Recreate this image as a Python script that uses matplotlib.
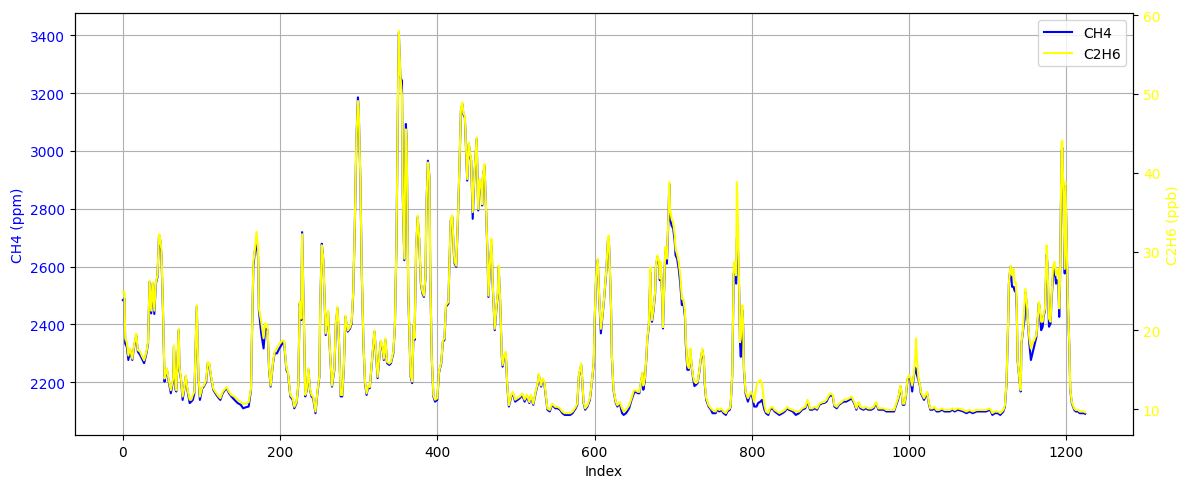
import matplotlib
matplotlib.use("Agg")
import matplotlib.pyplot as plt

# sample index along the record
index = [0, 2, 3, 5, 7, 9, 12, 14, 17, 19, 22, 24, 27, 30, 32, 34, 36, 38, 40, 42, 44, 46, 47, 49, 51, 53, 54, 56, 58, 61,
         64, 65, 67, 68, 71, 72, 74, 76, 78, 80, 82, 85, 87, 89, 91, 94, 96, 98, 101, 103, 106, 108, 110, 112, 115, 119, 122, 124, 127, 130,
         132, 135, 138, 142, 146, 150, 153, 157, 160, 163, 164, 166, 168, 170, 172, 173, 176, 179, 181, 184, 186, 188, 191, 193, 196, 199, 203, 205,
         208, 210, 213, 216, 218, 221, 223, 225, 227, 228, 230, 232, 234, 236, 238, 240, 242, 245, 247, 250, 251, 253, 255, 257, 258, 261,
         262, 264, 266, 269, 271, 273, 275, 277, 279, 281, 283, 286, 289, 291, 293, 295, 297, 299, 300, 302, 304, 306, 308, 310, 312, 314,
         316, 318, 320, 322, 324, 326, 328, 330, 332, 334, 336, 339, 341, 344, 346, 348, 350, 351, 353, 355, 356, 358, 359, 360, 361, 363,
         365, 366, 368, 370, 371, 373, 375, 377, 379, 381, 383, 385, 386, 388, 390, 391, 393, 395, 397, 400, 402, 405, 407, 409, 411, 414,
         417, 419, 421, 422, 424, 426, 428, 430, 432, 433, 435, 437, 438, 440, 442, 443, 445, 447, 450, 451, 452, 454, 456, 457, 458, 460,
         462, 464, 465, 467, 469, 470, 473, 475, 477, 478, 480, 482, 483, 485, 487, 489, 491, 494, 496, 499, 502, 505, 508, 511, 514, 517,
         519, 522, 525, 528, 529, 532, 534, 536, 538, 540, 543, 546, 550, 553, 556, 559, 562, 566, 569, 572, 576, 578, 580, 583, 584, 586,
         588, 591, 594, 596, 599, 600, 602, 604, 606, 608, 610, 612, 615, 617, 618, 619, 621, 622, 624, 627, 629, 632, 635, 637, 640,
         644, 647, 650, 652, 655, 657, 659, 661, 662, 664, 666, 667, 669, 671, 672, 673, 675, 677, 678, 680, 682, 683, 684, 686, 687, 689,
         690, 692, 694, 695, 696, 698, 700, 702, 703, 705, 707, 709, 711, 713, 715, 716, 718, 720, 722, 723, 725, 727, 729, 731, 733, 735,
         737, 739, 740, 742, 745, 748, 750, 754, 756, 759, 761, 764, 767, 769, 772, 773, 775, 777, 778, 780, 781, 782, 784, 785, 786, 788,
         789, 790, 792, 795, 797, 799, 801, 803, 806, 808, 811, 813, 816, 818, 821, 823, 826, 829, 832, 835, 839, 842, 845, 847,
         852, 856, 860, 864, 868, 871, 874, 877, 880, 883, 886, 890, 892, 895, 897, 900, 903, 905, 908, 911, 914, 917, 920, 924, 927, 931,
         933, 936, 938, 942, 945, 948, 952, 955, 958, 961, 964, 968, 971, 975, 978, 981, 983, 986, 987, 989, 991, 992, 994, 996, 998, 1000,
         1002, 1004, 1006, 1008, 1009, 1010, 1012, 1014, 1015, 1017, 1019, 1021, 1023, 1025, 1027, 1030, 1032, 1035, 1038, 1042, 1045, 1048,
         1052, 1055, 1058, 1062, 1069, 1073, 1077, 1081, 1086, 1090, 1094, 1098, 1103, 1106, 1109, 1113, 1116, 1120, 1122, 1124, 1126, 1127,
         1129, 1131, 1133, 1134, 1136, 1137, 1138, 1140, 1142, 1143, 1145, 1147, 1148, 1150, 1152, 1153, 1155, 1157, 1159, 1160, 1162, 1164,
         1165, 1166, 1168, 1170, 1171, 1173, 1175, 1176, 1178, 1180, 1181, 1183, 1185, 1187, 1188, 1190, 1191, 1192, 1194, 1195, 1197, 1198,
         1199, 1200, 1202, 1204, 1205, 1207, 1210, 1212, 1215, 1217, 1222, 1224]

# methane, ppm
ch4 = [2484, 2490, 2334, 2323, 2277, 2311, 2277, 2317, 2363, 2306, 2294, 2283, 2266, 2300, 2334, 2547, 2438, 2541, 2436, 2541, 2564, 2708, 2702, 2645, 2449, 2202, 2220, 2243, 2208, 2162,
       2208, 2323, 2174, 2168, 2380, 2243, 2208, 2139, 2174, 2220, 2174, 2128, 2133, 2139, 2162, 2461, 2220, 2139, 2179, 2185, 2202, 2266, 2260, 2220, 2174, 2156, 2145, 2139, 2162, 2174,
       2179, 2162, 2151, 2139, 2128, 2122, 2110, 2114, 2116, 2174, 2334, 2599, 2656, 2679, 2633, 2449, 2369, 2317, 2386, 2380, 2243, 2185, 2266, 2300, 2300, 2317, 2334, 2340,
       2243, 2231, 2151, 2139, 2110, 2128, 2185, 2472, 2415, 2719, 2449, 2151, 2174, 2243, 2174, 2151, 2145, 2093, 2151, 2220, 2449, 2679, 2622, 2449, 2363, 2444,
       2380, 2277, 2185, 2243, 2403, 2455, 2334, 2151, 2151, 2243, 2426, 2375, 2386, 2403, 2507, 2737, 3035, 3185, 3139, 2909, 2564, 2334, 2197, 2156, 2185, 2179,
       2243, 2311, 2375, 2300, 2214, 2277, 2340, 2323, 2277, 2346, 2266, 2260, 2266, 2300, 2392, 2679, 3196, 3409, 3254, 3242, 2852, 2622, 2909, 3093, 3024, 2507,
       2323, 2220, 2197, 2398, 2346, 2656, 2771, 2691, 2541, 2507, 2495, 2564, 2794, 2966, 2909, 2564, 2277, 2151, 2133, 2139, 2231, 2266, 2340, 2346, 2461, 2472,
       2760, 2771, 2645, 2610, 2599, 2748, 2932, 3139, 3162, 3127, 3116, 2966, 2897, 3024, 2978, 2966, 2765, 2909, 3041, 2909, 2794, 2897, 2874, 2811, 2909, 2949,
       2794, 2622, 2495, 2610, 2691, 2564, 2380, 2449, 2507, 2599, 2472, 2288, 2254, 2288, 2300, 2185, 2116, 2151, 2162, 2133, 2139, 2145, 2156, 2133, 2151, 2128,
       2151, 2122, 2162, 2197, 2225, 2185, 2208, 2197, 2151, 2105, 2099, 2122, 2110, 2110, 2105, 2093, 2087, 2087, 2087, 2093, 2110, 2122, 2220, 2260, 2220, 2128,
       2105, 2116, 2139, 2185, 2266, 2403, 2564, 2622, 2484, 2369, 2426, 2484, 2587, 2691, 2702, 2633, 2449, 2288, 2174, 2128, 2116, 2128, 2093, 2087, 2093,
       2110, 2139, 2162, 2168, 2162, 2162, 2197, 2231, 2174, 2208, 2288, 2346, 2392, 2580, 2449, 2409, 2449, 2507, 2599, 2633, 2610, 2553, 2610, 2495, 2386, 2564,
       2662, 2610, 2771, 2886, 2765, 2742, 2731, 2685, 2639, 2627, 2593, 2541, 2467, 2472, 2426, 2334, 2243, 2243, 2311, 2266, 2220, 2187, 2191, 2197, 2231, 2277,
       2311, 2277, 2197, 2139, 2116, 2105, 2093, 2093, 2105, 2099, 2105, 2093, 2087, 2099, 2105, 2116, 2220, 2576, 2587, 2541, 2700, 2700, 2507, 2334, 2288, 2450,
       2392, 2243, 2162, 2133, 2151, 2162, 2145, 2116, 2116, 2128, 2133, 2139, 2105, 2093, 2087, 2105, 2110, 2099, 2093, 2087, 2093, 2099, 2110, 2105,
       2099, 2087, 2093, 2105, 2110, 2133, 2105, 2105, 2110, 2105, 2122, 2128, 2128, 2133, 2145, 2156, 2151, 2116, 2110, 2122, 2128, 2133, 2133, 2139, 2145, 2122,
       2105, 2128, 2110, 2105, 2110, 2105, 2105, 2110, 2128, 2105, 2105, 2105, 2099, 2099, 2099, 2099, 2116, 2139, 2151, 2185, 2151, 2122, 2122, 2151, 2208, 2220,
       2208, 2168, 2220, 2250, 2240, 2225, 2208, 2185, 2162, 2151, 2139, 2151, 2162, 2128, 2105, 2105, 2110, 2099, 2099, 2105, 2099, 2099,
       2099, 2105, 2099, 2105, 2099, 2093, 2099, 2093, 2099, 2099, 2099, 2099, 2105, 2087, 2093, 2093, 2087, 2099, 2116, 2197, 2403, 2541,
       2599, 2530, 2530, 2518, 2510, 2449, 2277, 2220, 2168, 2334, 2380, 2420, 2510, 2461, 2380, 2334, 2277, 2300, 2323, 2334, 2357, 2426,
       2472, 2461, 2380, 2392, 2426, 2449, 2640, 2610, 2392, 2403, 2472, 2564, 2590, 2541, 2553, 2541, 2426, 2541, 3000, 3010, 2737, 2576,
       2880, 2748, 2472, 2311, 2174, 2128, 2105, 2099, 2099, 2093, 2093, 2091]

# ethane, ppb
c2h6 = [24.9, 24.9, 19.0, 18.5, 16.8, 17.7, 16.4, 17.9, 19.6, 17.5, 17.3, 16.8, 16.2, 17.3, 18.5, 26.3, 22.5, 26.1, 22.5, 26.1, 27.0, 32.2, 32.0, 30.3, 22.8, 13.9, 14.3, 15.2, 13.9, 12.4,
        13.9, 18.1, 13.0, 12.4, 20.2, 15.2, 13.9, 11.6, 12.6, 14.3, 12.6, 11.2, 11.2, 11.8, 12.2, 23.2, 14.3, 11.6, 12.8, 13.0, 13.7, 16.0, 15.8, 14.3, 12.6, 12.0, 11.6, 11.4, 12.2, 12.6,
        12.8, 12.2, 11.8, 11.6, 11.2, 10.9, 10.7, 10.7, 10.9, 12.6, 18.5, 28.7, 30.3, 32.5, 30.3, 22.8, 21.1, 19.0, 20.9, 20.6, 15.2, 13.0, 16.0, 17.3, 17.7, 18.3, 18.7, 18.7,
        15.2, 14.7, 11.8, 11.4, 10.3, 10.9, 13.0, 23.6, 21.5, 32.2, 22.8, 11.8, 12.6, 15.2, 12.6, 11.8, 11.6, 9.7, 11.8, 14.3, 22.8, 30.8, 29.1, 22.8, 19.6, 22.5,
        20.2, 16.4, 13.0, 15.2, 21.1, 23.0, 18.5, 11.8, 11.8, 15.2, 21.9, 20.0, 20.4, 21.1, 24.9, 33.3, 44.3, 49.1, 48.1, 39.6, 27.0, 18.5, 13.5, 12.0, 13.0, 12.8,
        15.2, 17.7, 20.0, 17.3, 14.1, 16.4, 18.7, 18.1, 16.4, 19.0, 16.0, 15.8, 16.0, 17.3, 20.6, 31.2, 50.2, 58.0, 52.3, 49.8, 37.5, 29.1, 39.6, 45.5, 43.8, 24.9,
        18.1, 14.3, 13.5, 20.9, 19.0, 30.3, 34.6, 31.6, 26.1, 24.9, 24.4, 27.0, 35.4, 41.3, 39.6, 27.0, 16.4, 11.8, 11.2, 11.4, 14.7, 16.0, 18.7, 19.0, 23.2, 23.6,
        34.1, 34.6, 29.9, 28.7, 28.2, 33.7, 40.5, 48.1, 48.9, 47.6, 47.2, 41.7, 39.2, 43.8, 42.2, 41.7, 35.0, 39.6, 44.5, 39.6, 35.4, 39.2, 38.4, 36.0, 39.6, 41.1,
        35.4, 29.1, 24.4, 28.7, 31.6, 27.0, 20.2, 22.8, 24.9, 28.2, 23.6, 16.8, 15.6, 16.8, 17.3, 13.0, 10.5, 11.8, 12.2, 11.2, 11.4, 11.6, 12.0, 11.2, 11.8, 10.9,
        11.8, 10.7, 12.2, 13.5, 14.5, 13.0, 13.9, 13.5, 11.8, 10.1, 9.9, 10.7, 10.3, 10.3, 10.1, 9.7, 9.5, 9.5, 9.5, 9.7, 10.3, 10.7, 14.3, 15.8, 14.3, 10.9,
        10.1, 10.5, 11.4, 13.0, 16.0, 21.1, 27.0, 29.1, 24.0, 20.2, 21.9, 24.0, 27.8, 31.6, 32.0, 29.5, 22.8, 16.8, 12.6, 10.9, 10.5, 10.9, 10.1, 9.7, 9.9,
        10.5, 11.4, 12.4, 12.4, 12.2, 12.2, 13.5, 14.7, 13.0, 13.9, 16.8, 19.0, 20.6, 28.0, 22.8, 21.3, 22.8, 24.9, 28.2, 29.5, 28.7, 26.6, 28.7, 24.4, 20.4, 27.0,
        30.6, 29.1, 34.6, 38.8, 35.4, 34.1, 33.7, 32.0, 30.3, 29.7, 28.7, 27.0, 24.0, 24.0, 22.3, 19.0, 15.6, 15.2, 17.7, 16.0, 14.3, 13.5, 13.3, 13.5, 14.7, 16.4,
        17.7, 16.4, 13.5, 11.4, 10.5, 10.1, 9.9, 9.7, 10.1, 9.9, 10.1, 9.7, 9.5, 9.9, 10.1, 10.5, 14.3, 27.8, 28.7, 27.0, 38.8, 35.4, 24.9, 18.5, 19.0, 23.2,
        20.6, 15.2, 12.2, 11.4, 11.8, 12.2, 11.8, 10.9, 13.0, 13.5, 13.7, 13.3, 10.5, 9.7, 9.5, 10.1, 10.3, 9.9, 9.7, 9.5, 9.7, 9.9, 10.3, 10.1,
        9.9, 9.7, 9.7, 10.1, 10.3, 11.2, 10.1, 10.1, 10.3, 10.1, 10.7, 10.9, 10.9, 11.2, 11.6, 12.0, 11.8, 10.5, 10.3, 10.7, 10.9, 11.2, 11.2, 11.4, 11.6, 10.7,
        10.1, 10.9, 10.3, 10.1, 10.3, 10.1, 10.1, 10.3, 10.9, 10.1, 10.1, 10.1, 9.9, 9.9, 9.9, 9.9, 10.5, 11.4, 11.8, 13.0, 11.8, 10.7, 10.7, 11.8, 13.9, 14.3,
        13.9, 13.0, 14.3, 16.8, 19.0, 16.4, 13.9, 13.0, 12.2, 11.8, 11.4, 11.8, 12.2, 10.9, 10.1, 10.1, 10.3, 9.9, 9.9, 10.1, 9.9, 9.9,
        9.9, 10.1, 9.9, 10.1, 9.9, 9.7, 9.9, 9.7, 9.9, 9.9, 9.9, 9.9, 10.1, 9.5, 9.7, 9.7, 9.5, 9.9, 10.5, 13.5, 21.1, 26.1,
        28.2, 27.0, 27.8, 26.1, 26.1, 22.8, 16.4, 14.3, 12.4, 18.5, 20.2, 23.6, 25.3, 23.2, 20.2, 19.0, 17.7, 18.5, 18.7, 19.0, 19.4, 21.9,
        23.6, 23.2, 21.1, 21.1, 21.9, 22.8, 30.8, 28.7, 21.5, 21.1, 23.6, 27.8, 28.7, 27.0, 27.4, 27.8, 22.8, 26.1, 43.8, 44.1, 33.3, 27.8,
        38.8, 33.7, 23.6, 17.7, 12.6, 10.9, 10.1, 9.9, 9.9, 9.7, 9.7, 9.6]

fig, ax1 = plt.subplots(figsize=(11.89, 4.89), dpi=100)
fig.subplots_adjust(left=0.063, right=0.953, top=0.971, bottom=0.108)

# CH4 on the left axis
line1, = ax1.plot(index, ch4, color='blue', label='CH4')
ax1.set_xlabel('Index')
ax1.set_ylabel('CH4 (ppm)', color='blue')
ax1.tick_params(axis='y', labelcolor='blue')
ax1.set_xlim(-61, 1285)
ax1.set_ylim(2017, 3476)
ax1.grid(True)

# C2H6 on a twin axis, drawn on top
ax2 = ax1.twinx()
line2, = ax2.plot(index, c2h6, color='yellow', label='C2H6')
ax2.set_ylabel('C2H6 (ppb)', color='yellow')
ax2.tick_params(axis='y', labelcolor='yellow')
ax2.set_ylim(6.7, 60.25)

ax2.legend([line1, line2], ['CH4', 'C2H6'], loc='upper right')

plt.savefig('out.png', dpi=100)
